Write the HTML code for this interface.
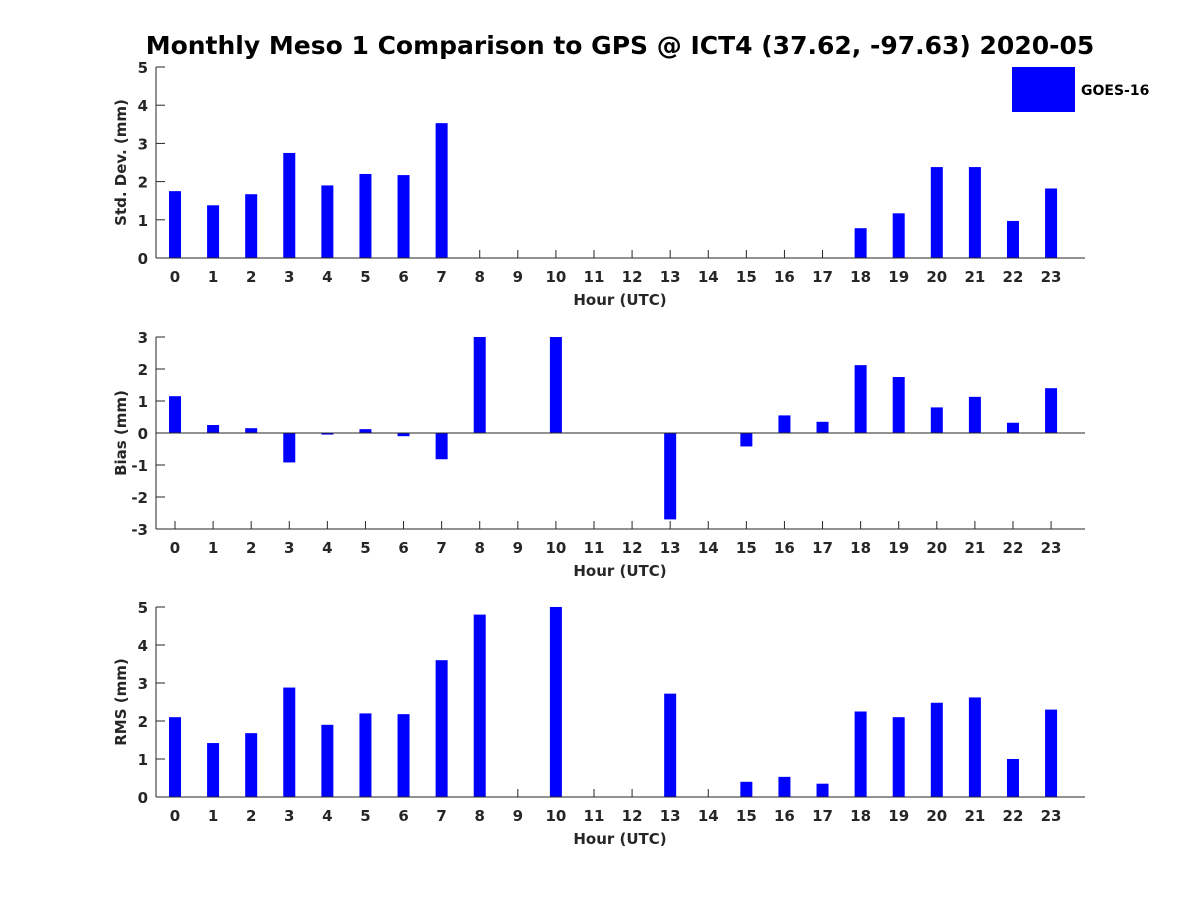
<!DOCTYPE html>
<html><head><meta charset="utf-8"><style>
body{margin:0;background:#fff;}
svg text{font-family:"DejaVu Sans","Liberation Sans",sans-serif;font-weight:bold;}
</style></head><body>
<svg id="chart" width="1200" height="900" xmlns="http://www.w3.org/2000/svg">
<rect width="1200" height="900" fill="#fff"/>
<text x="620" y="54" font-size="25" text-anchor="middle" fill="#000">Monthly Meso 1 Comparison to GPS @ ICT4 (37.62, -97.63) 2020-05</text>
<rect x="1012" y="67" width="63" height="45" fill="#0000ff"/>
<text x="1081" y="95" font-size="14" fill="#000">GOES-16</text>
</svg>
<script>
const hours = [0,1,2,3,4,5,6,7,8,9,10,11,12,13,14,15,16,17,18,19,20,21,22,23];
const stdValues = [1.75,1.38,1.67,2.75,1.9,2.2,2.17,3.53,null,null,null,null,null,null,null,null,null,null,0.78,1.17,2.38,2.38,0.97,1.82];
const biasValues = [1.15,0.25,0.15,-0.92,-0.05,0.12,-0.1,-0.82,3.0,null,3.0,null,null,-2.7,null,-0.42,0.55,0.35,2.12,1.75,0.8,1.13,0.32,1.4];
const rmsValues = [2.1,1.42,1.68,2.88,1.9,2.2,2.18,3.6,4.8,null,5.0,null,null,2.72,null,0.4,0.53,0.35,2.25,2.1,2.48,2.62,1.0,2.3];
const stdTicks = [0,1,2,3,4,5];
const biasTicks = [-3,-2,-1,0,1,2,3];
const rmsTicks = [0,1,2,3,4,5];

const svg = document.getElementById('chart');
const NS = 'http://www.w3.org/2000/svg';
function mk(tag, attrs){const e=document.createElementNS(NS,tag);for(const k in attrs)e.setAttribute(k,attrs[k]);svg.appendChild(e);return e;}
const x0=156,x1=1085;
function xs(h){return 175+h*38.09;}

function panel(key, vals, ticks, ymin, ymax, top, bottom, ylabel){
  const ys=v=>bottom-(v-ymin)/(ymax-ymin)*(bottom-top);
  const base=ys(Math.max(ymin,0));
  hours.forEach(h=>{
    const t=mk('line',{x1:xs(h),x2:xs(h),y1:bottom,y2:bottom-8,stroke:'#262626','stroke-width':1});
    
    
    const l=mk('text',{x:xs(h),y:bottom+24,'font-size':15,'text-anchor':'middle',fill:'#262626'});
    l.textContent=h;
    
    
  });
  ticks.forEach(v=>{
    const t=mk('line',{x1:x0,x2:x0+9,y1:ys(v),y2:ys(v),stroke:'#262626','stroke-width':1});
    
    
    const l=mk('text',{x:x0-8,y:ys(v)+6,'font-size':15,'text-anchor':'end',fill:'#262626'});
    l.textContent=v;
    
    
  });
  vals.forEach((v,i)=>{
    if(v===null)return;
    const y=Math.min(ys(v),base),hgt=Math.abs(ys(v)-ys(0));
    const r=mk('rect',{x:xs(hours[i])-6,y:y,width:12,height:Math.max(hgt,1),fill:'#0000ff'});
    
    
  });
  const ax=mk('line',{x1:x0,x2:x0,y1:top,y2:bottom,stroke:'#262626','stroke-width':1});
  
  
  const bx=mk('line',{x1:x0,x2:x1,y1:bottom,y2:bottom,stroke:'#262626','stroke-width':1});
  
  
  if(ymin<0){
    const z=mk('line',{x1:x0,x2:x1,y1:ys(0),y2:ys(0),stroke:'#262626','stroke-width':1});
    
    
  }
  const xt=mk('text',{x:620,y:bottom+47,'font-size':15,'text-anchor':'middle',fill:'#262626'});
  xt.textContent='Hour (UTC)';
  
  
  const cy=(top+bottom)/2;
  const yt=mk('text',{x:126,y:cy,'font-size':15,'text-anchor':'middle',fill:'#262626',transform:'rotate(-90 126 '+cy+')'});
  yt.textContent=ylabel;
  
  
}
panel('std',stdValues,stdTicks,0,5,67,258,'Std. Dev. (mm)');
panel('bias',biasValues,biasTicks,-3,3,337,529,'Bias (mm)');
panel('rms',rmsValues,rmsTicks,0,5,607,797,'RMS (mm)');
</script>
</body></html>
